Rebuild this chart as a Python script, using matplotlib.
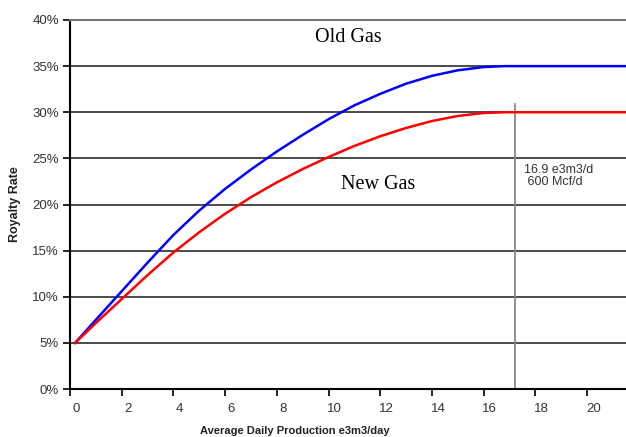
import matplotlib
matplotlib.use("Agg")
import matplotlib.pyplot as plt
import matplotlib.transforms as mtransforms
from matplotlib.ticker import FuncFormatter

# production (e3m3/day) vs royalty rate (%)
old_x = [0.2, 1, 2, 3, 4, 5, 6, 7, 8, 9, 10, 11, 12, 13, 14, 15, 16, 16.8, 21.5]
old_y = [5.0, 7.5, 10.6, 13.7, 16.7, 19.35, 21.7, 23.8, 25.75, 27.55, 29.25,
         30.75, 32.0, 33.1, 33.95, 34.55, 34.9, 35.0, 35.0]

new_x = [0.2, 1, 2, 3, 4, 5, 6, 7, 8, 9, 10, 11, 12, 13, 14, 15, 16, 16.8, 21.5]
new_y = [5.0, 7.15, 9.75, 12.35, 14.8, 17.0, 19.0, 20.8, 22.4, 23.85, 25.15,
         26.35, 27.4, 28.3, 29.05, 29.6, 29.92, 30.0, 30.0]

cap_x = 17.2
cap_top = 30.9
x_ticks = list(range(0, 21, 2))
y_ticks = list(range(0, 41, 5))

fig = plt.figure(figsize=(6.26, 4.37), dpi=100)
ax = fig.add_axes([70 / 626, 1 - 389 / 437, 556 / 626, 369 / 437])

for yv in y_ticks[1:-1]:
    ax.axhline(yv, color="#1a1a1a", lw=1.1, zorder=1)

ax.plot(old_x, old_y, color="#0000ff", lw=1.8, zorder=3)
ax.plot(new_x, new_y, color="#ff0000", lw=1.8, zorder=3)
ax.plot([cap_x, cap_x], [0, cap_top], color="#888888", lw=1.3, zorder=2)

ax.set_xlim(0, 21.5)
ax.set_ylim(0, 40)
ax.set_xticks(x_ticks)
ax.set_yticks(y_ticks)
ax.yaxis.set_major_formatter(FuncFormatter(lambda v, p: f"{int(v)}%"))

ax.spines["right"].set_visible(False)
ax.spines["top"].set_color("#777777")
ax.spines["top"].set_linewidth(1.5)
ax.spines["left"].set_linewidth(1.5)
ax.spines["bottom"].set_linewidth(1.5)

ax.tick_params(axis="both", direction="out", length=5, width=1.2,
               labelsize=9.5, labelcolor="#333333", pad=3)
ax.tick_params(axis="x", pad=5)

shift = mtransforms.ScaledTranslation(6 / 100, 0, fig.dpi_scale_trans)
for lab in ax.get_xticklabels():
    lab.set_transform(lab.get_transform() + shift)
    lab.set_fontfamily("Liberation Sans")
for lab in ax.get_yticklabels():
    lab.set_fontfamily("Liberation Sans")

ax.set_ylabel("Royalty Rate", fontsize=9, fontweight="bold",
              family="Liberation Sans", color="#222222")
ax.yaxis.set_label_coords(-0.088, 0.5)
ax.set_xlabel("Average Daily Production e3m3/day", fontsize=8, fontweight="bold",
              family="Liberation Sans", color="#222222")
ax.xaxis.set_label_coords(0.405, -0.1)

ax.text(10.75, 38.1, "Old Gas", family="Liberation Serif", fontsize=14.5,
        ha="center", va="center")
ax.text(11.9, 22.2, "New Gas", family="Liberation Serif", fontsize=14.5,
        ha="center", va="center")
ax.text(17.55, 24.4, "16.9 e3m3/d\n 600 Mcf/d", family="Liberation Sans",
        fontsize=9, color="#333333", ha="left", va="top", linespacing=1.0)

fig.savefig("out.png", dpi=100)
